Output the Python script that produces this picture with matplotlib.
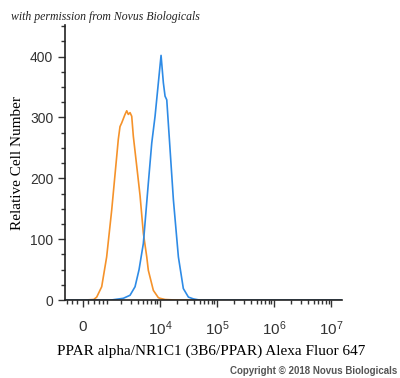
import matplotlib
matplotlib.use("Agg")
import matplotlib.pyplot as plt
import numpy as np

# isotype control (orange) and PPAR alpha stained (blue) histograms
orangeX = [-700, 0, 400, 520, 740, 989, 1283, 1627, 1749, 1888, 2035, 2352, 2533, 2710,
           2915, 3130, 3349, 3858, 4420, 5063, 5822, 6206, 7617, 9332, 10000, 12243,
           20000, 1.5e7]
orangeY = [0, 0, 1, 5, 22, 71, 148, 236, 264, 285, 291, 305, 311, 305,
           308, 302, 269, 220, 172, 110, 71, 49, 16, 4, 3, 1,
           0, 0]

blueX = [-700, 0, 1200, 2188, 2915, 3595, 4243, 5063, 6206, 7135, 8162, 9332, 10412,
         11430, 12243, 13118, 15002, 17146, 20986, 25629, 31434, 38488, 50000, 1.5e7]
blueY = [0, 0, 0, 3, 8, 22, 50, 93, 192, 258, 302, 357, 402,
         357, 335, 329, 247, 165, 71, 19, 5, 2, 0, 0]

yTicks = [0, 100, 200, 300, 400]
xTicks = [0, 1e4, 1e5, 1e6, 1e7]
xTickLabels = ["0", r"$\mathregular{10^4}$", r"$\mathregular{10^5}$",
               r"$\mathregular{10^6}$", r"$\mathregular{10^7}$"]

plt.rcParams["font.family"] = "Liberation Sans"

fig = plt.figure(figsize=(4, 3.78), dpi=100)
ax = fig.add_axes([0.1625, 0.206, 0.6925, 0.728])

ax.plot(orangeX, orangeY, color="#F5922A", lw=1.2)
ax.plot(blueX, blueY, color="#2E8BE6", lw=1.2)

ax.set_xscale("asinh", linear_width=893)
ax.set_xlim(-707, 1.55e7)
ax.set_ylim(0, 452)

ax.set_xticks(xTicks)
ax.set_xticklabels(xTickLabels)
minorX = [-600, -400, -200, 200, 400, 600, 800]
for k in [3, 4, 5, 6]:
    minorX += [m * 10 ** k for m in range(1, 10) if not (k > 3 and m == 1)]
ax.set_xticks(minorX, minor=True)
ax.set_yticks(yTicks)
ax.set_yticks(np.arange(0, 451, 25), minor=True)

ax.tick_params(axis="both", which="major", direction="out", length=5, width=1,
               labelsize=10, colors="#333333")
ax.tick_params(axis="both", which="minor", direction="out", length=3, width=1,
               colors="#333333")
ax.tick_params(axis="x", which="major", pad=9, labelsize=11)

for s in ["top", "right"]:
    ax.spines[s].set_visible(False)
for s in ["left", "bottom"]:
    ax.spines[s].set_color("#222222")
    ax.spines[s].set_linewidth(1.2)

ax.set_ylabel("Relative Cell Number", family="Liberation Serif", fontsize=11)
ax.set_xlabel("PPAR alpha/NR1C1 (3B6/PPAR) Alexa Fluor 647",
              family="Liberation Serif", fontsize=11)
ax.xaxis.set_label_coords(0.527, -0.16)

fig.text(0.027, 0.948, "with permission from Novus Biologicals",
         family="Liberation Serif", style="italic", fontsize=8.5, color="#222222")
fig.text(0.992, 0.01, "Copyright \u00a9 2018 Novus Biologicals",
         fontsize=7, color="#555555", ha="right", weight="bold")

fig.savefig("out.png", dpi=100)
